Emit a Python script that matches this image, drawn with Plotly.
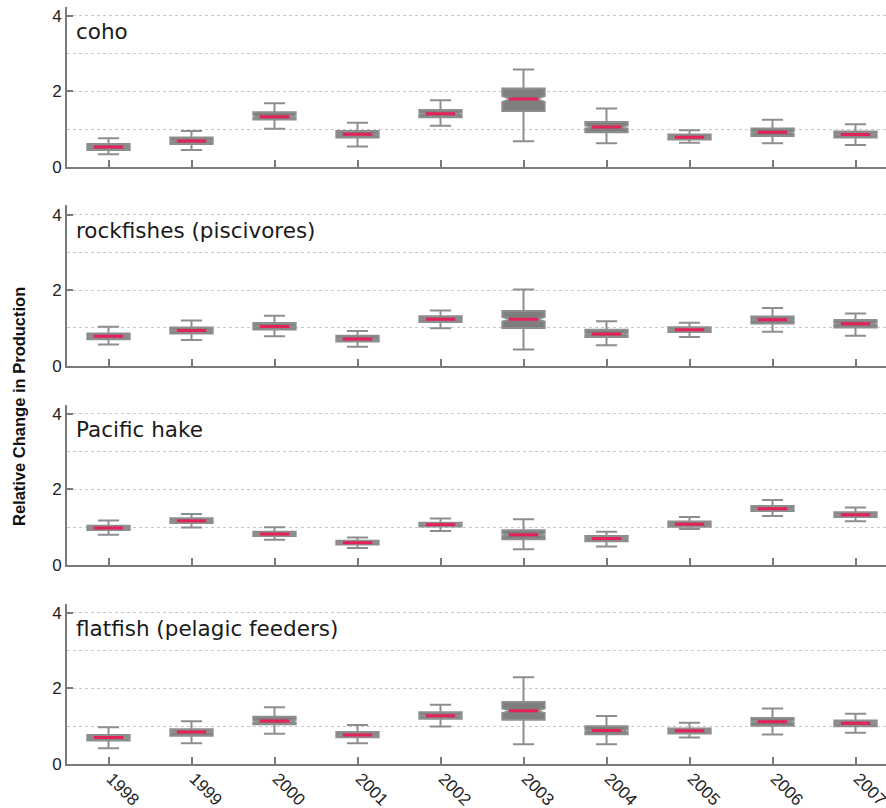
import plotly.graph_objects as go

years = [1998, 1999, 2000, 2001, 2002, 2003, 2004, 2005, 2006, 2007]
year_labels = ["1998", "1999", "2000", "2001", "2002", "2003", "2004", "2005", "2006", "2007"]
species = ["coho", "rockfishes (piscivores)", "Pacific hake", "flatfish (pelagic feeders)"]

coho_lower = [0.34, 0.45, 1.01, 0.54, 1.09, 0.68, 0.63, 0.64, 0.63, 0.58]
coho_q1 = [0.45, 0.61, 1.26, 0.78, 1.32, 1.48, 0.92, 0.73, 0.82, 0.78]
coho_median = [0.53, 0.69, 1.33, 0.87, 1.41, 1.80, 1.06, 0.79, 0.92, 0.86]
coho_q3 = [0.61, 0.78, 1.45, 0.95, 1.51, 2.08, 1.19, 0.86, 1.02, 0.94]
coho_upper = [0.76, 0.95, 1.69, 1.17, 1.77, 2.58, 1.55, 0.97, 1.25, 1.13]
coho_notch = [0.02, 0.02, 0.03, 0.02, 0.03, 0.08, 0.04, 0.02, 0.03, 0.02]

rock_lower = [0.56, 0.68, 0.78, 0.50, 0.99, 0.43, 0.54, 0.76, 0.90, 0.79]
rock_q1 = [0.70, 0.85, 0.96, 0.64, 1.16, 1.00, 0.76, 0.89, 1.12, 1.01]
rock_median = [0.78, 0.93, 1.04, 0.71, 1.23, 1.23, 0.84, 0.95, 1.22, 1.11]
rock_q3 = [0.85, 1.01, 1.13, 0.79, 1.31, 1.45, 0.95, 1.02, 1.30, 1.21]
rock_upper = [1.03, 1.20, 1.32, 0.92, 1.46, 2.02, 1.18, 1.14, 1.53, 1.38]
rock_notch = [0.02, 0.02, 0.02, 0.02, 0.02, 0.06, 0.03, 0.02, 0.02, 0.03]

hake_lower = [0.80, 0.99, 0.67, 0.45, 0.90, 0.42, 0.49, 0.95, 1.30, 1.16]
hake_q1 = [0.93, 1.11, 0.77, 0.54, 1.02, 0.68, 0.63, 1.01, 1.43, 1.27]
hake_median = [0.98, 1.17, 0.82, 0.59, 1.07, 0.80, 0.70, 1.08, 1.49, 1.33]
hake_q3 = [1.04, 1.24, 0.88, 0.64, 1.12, 0.92, 0.77, 1.15, 1.56, 1.40]
hake_upper = [1.18, 1.35, 1.00, 0.73, 1.23, 1.21, 0.88, 1.27, 1.72, 1.52]
hake_notch = [0.015, 0.015, 0.015, 0.01, 0.01, 0.03, 0.02, 0.02, 0.015, 0.015]

flat_lower = [0.42, 0.55, 0.80, 0.55, 0.99, 0.52, 0.52, 0.70, 0.78, 0.83]
flat_q1 = [0.62, 0.75, 1.05, 0.71, 1.20, 1.17, 0.79, 0.81, 1.01, 1.00]
flat_median = [0.70, 0.85, 1.14, 0.77, 1.28, 1.41, 0.89, 0.88, 1.12, 1.08]
flat_q3 = [0.77, 0.92, 1.25, 0.85, 1.37, 1.64, 1.00, 0.94, 1.22, 1.15]
flat_upper = [0.97, 1.13, 1.50, 1.03, 1.57, 2.30, 1.27, 1.09, 1.47, 1.33]
flat_notch = [0.02, 0.02, 0.03, 0.02, 0.02, 0.06, 0.03, 0.02, 0.03, 0.02]

panels = [
    (coho_lower, coho_q1, coho_median, coho_q3, coho_upper, coho_notch),
    (rock_lower, rock_q1, rock_median, rock_q3, rock_upper, rock_notch),
    (hake_lower, hake_q1, hake_median, hake_q3, hake_upper, hake_notch),
    (flat_lower, flat_q1, flat_median, flat_q3, flat_upper, flat_notch),
]

BOX_FILL = "#7e7e7e"
BOX_LINE = "#8e8e8e"
MED_RED = "#e5215a"
AXIS_GRAY = "#7a7a7a"
GRID = "#c8c8c8"

H, TOP_M, BOT_M = 808, 6, 44
plot_h = H - TOP_M - BOT_M
bottoms_px = [167, 365.7, 565, 764]
panel_h = 160.5

fig = go.Figure()
layout = dict(
    width=886, height=808,
    margin=dict(l=67, r=0, t=TOP_M, b=BOT_M),
    paper_bgcolor="white", plot_bgcolor="white",
    showlegend=False,
    font=dict(family="Liberation Sans, Arial, sans-serif", color="#222222", size=17),
)
annotations = []
for i, (lo, q1, med, q3, up, notch) in enumerate(panels):
    n = i + 1
    xs = "x" if n == 1 else f"x{n}"
    ys = "y" if n == 1 else f"y{n}"
    fig.add_trace(go.Box(
        x=years, q1=q1, median=med, q3=q3, lowerfence=lo, upperfence=up,
        notched=True, notchspan=notch, notchwidth=0.2,
        width=0.51, whiskerwidth=0.5, boxpoints=False,
        fillcolor=BOX_FILL, line=dict(color=BOX_LINE, width=2),
        xaxis=xs, yaxis=ys, hoverinfo="skip",
    ))
    fig.add_trace(go.Scatter(
        x=years, y=med, mode="markers",
        marker=dict(symbol="line-ew", size=21, line=dict(color=MED_RED, width=3)),
        xaxis=xs, yaxis=ys, hoverinfo="skip",
    ))
    b = (H - BOT_M - bottoms_px[i]) / plot_h
    t = b + panel_h / plot_h
    xkey = "xaxis" if n == 1 else f"xaxis{n}"
    ykey = "yaxis" if n == 1 else f"yaxis{n}"
    layout[xkey] = dict(
        domain=[0, 1], anchor=ys, range=[1997.5, 1997.5 + 819 / 83],
        tickvals=years, ticktext=year_labels, showticklabels=(n == 4),
        tickangle=45, ticks="inside", ticklen=7, tickwidth=1.5, tickcolor=AXIS_GRAY,
        showline=True, linecolor=AXIS_GRAY, linewidth=2, showgrid=False, zeroline=False,
        automargin=False, ticklabeloverflow="allow",
        ticklabelstandoff=-4, ticklabelshift=3,
        tickfont=dict(size=17, color="#222222"),
        matches=None if n == 1 else "x",
    )
    layout[ykey] = dict(
        domain=[b, min(t, 1)], anchor=xs, range=[0, 4.25],
        tickvals=[0, 2, 4], ticks="inside", ticklen=6, tickwidth=1.5, tickcolor=AXIS_GRAY,
        showline=True, linecolor=AXIS_GRAY, linewidth=2,
        showgrid=True, gridcolor=GRID, griddash="dot", gridwidth=1,
        minor=dict(tickvals=[1, 3], showgrid=True, gridcolor=GRID, griddash="dot", gridwidth=1, ticks=""),
        zeroline=False, automargin=False, tickfont=dict(size=17, color="#222222"),
    )
    annotations.append(dict(
        text=species[i], xref=f"{xs} domain", yref=f"{ys} domain",
        x=0.0085, y=3.58 / 4.25, xanchor="left", yanchor="middle", showarrow=False,
        font=dict(family="DejaVu Sans, Verdana, sans-serif", size=21.5, color="#1a1a1a"),
    ))

annotations.append(dict(
    text="<b>Relative Change in Production</b>", xref="paper", yref="paper",
    x=(19 - 67) / 819, y=(H - BOT_M - 407) / plot_h, xanchor="center", yanchor="middle",
    textangle=-90, showarrow=False,
    font=dict(family="Liberation Sans, Arial, sans-serif", size=16.5, color="#111111"),
))
layout["annotations"] = annotations
fig.update_layout(**layout)
fig.write_html(
    "out.html",
    config={"displayModeBar": False},
    post_script="document.body.style.margin='0';document.body.style.overflow='hidden';",
)
